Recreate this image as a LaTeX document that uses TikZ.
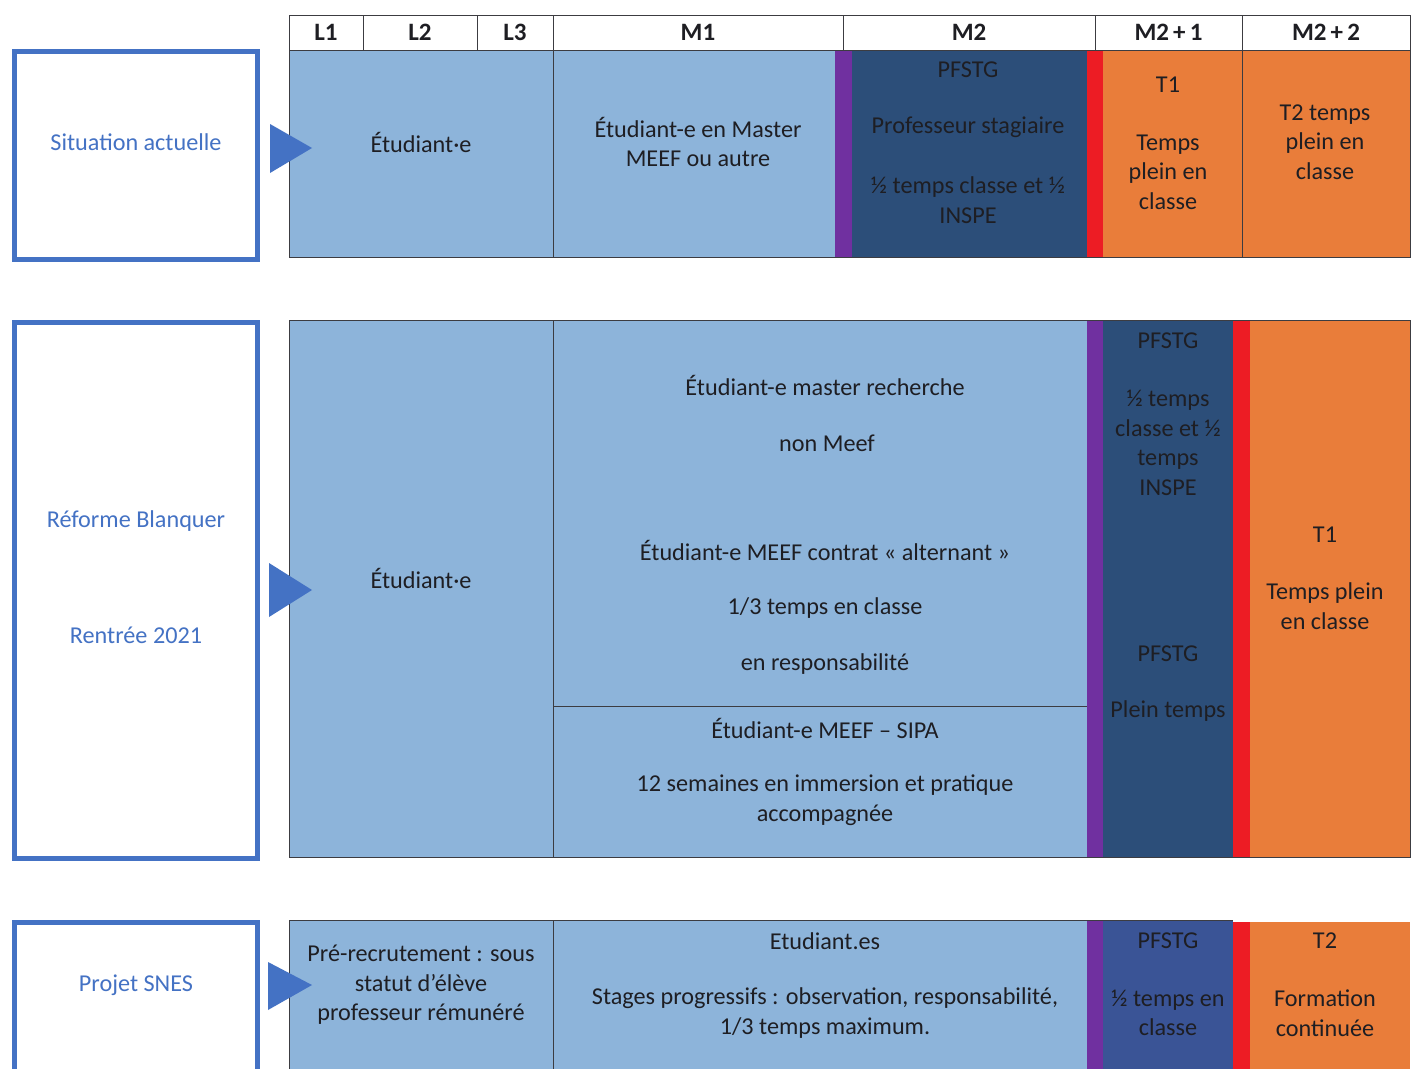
\documentclass[tikz,border=0pt]{standalone}
\usepackage{fontspec}
\setmainfont{Carlito}
\definecolor{lb}{RGB}{141,180,218}
\definecolor{navy}{RGB}{44,78,121}
\definecolor{bluethree}{RGB}{58,84,150}
\definecolor{purp}{RGB}{112,48,160}
\definecolor{redd}{RGB}{237,28,36}
\definecolor{oran}{RGB}{233,125,58}
\definecolor{frameblue}{RGB}{68,114,196}
\definecolor{ink}{RGB}{30,30,35}
\definecolor{rule}{RGB}{60,60,65}
\newcommand\cellbox[6]{\node[cellshape,#6,minimum width={#4-#2},minimum height={#5-#3}] (#1) at ({(#2+#4)/2},{(#3+#5)/2}) {};}
\tikzset{
  cellshape/.style={rectangle,inner sep=0pt,outer sep=0pt},
  hdr/.style={cellshape,draw=rule,line width=1pt,fill=white},
  lbl/.style={align=center,text=ink,font=\fontsize{24.2}{29.5}\selectfont,inner sep=0pt},
  hlbl/.style={text=ink,font=\fontsize{25}{28}\selectfont\bfseries,inner sep=0pt},
  sit/.style={cellshape,draw=frameblue,line width=5pt,fill=white},
  sitlbl/.style={align=center,text=frameblue,font=\fontsize{24.2}{29.5}\selectfont,inner sep=0pt},
  tri/.style={fill=frameblue},
  divider/.style={draw=rule,line width=1pt}
}
\begin{document}
\begin{tikzpicture}[x=1pt,y=-1pt]
\useasboundingbox (0,0) rectangle (1413,1068);
\clip (0,0) rectangle (1413,1068);
\fill[white] (0,0) rectangle (1413,1068);
% ---------- header ----------
\cellbox{hL1}{289}{15}{363}{50}{hdr}
\cellbox{hL2}{363}{15}{477}{50}{hdr}
\cellbox{hL3}{477}{15}{553}{50}{hdr}
\cellbox{hM1}{553}{15}{843}{50}{hdr}
\cellbox{hM2}{843}{15}{1095}{50}{hdr}
\cellbox{hM21}{1095}{15}{1242}{50}{hdr}
\cellbox{hM22}{1242}{15}{1410}{50}{hdr}
\node[hlbl] (tL1) at (hL1) {L1};
\node[hlbl] (tL2) at (hL2) {L2};
\node[hlbl] (tL3) at (hL3) {L3};
\node[hlbl] (tM1) at (hM1) {M1};
\node[hlbl] (tM2) at (hM2) {M2};
\node[hlbl] (tM21) at (hM21) {M2\,+\,1};
\node[hlbl] (tM22) at (hM22) {M2\,+\,2};
% ---------- row 1 ----------
\cellbox{s1}{14.5}{51.5}{257.5}{259.5}{sit}
\node[sitlbl] (s1t) at (136,142) {Situation actuelle};
\cellbox{a1}{289}{50}{553}{257}{fill=lb}
\cellbox{b1}{553}{50}{835}{257}{fill=lb}
\cellbox{p1}{835}{50}{852}{257}{fill=purp}
\cellbox{c1}{852}{50}{1087}{257}{fill=navy}
\cellbox{r1}{1087}{50}{1103}{257}{fill=redd}
\cellbox{d1}{1103}{50}{1242}{257}{fill=oran}
\cellbox{e1}{1242}{50}{1410}{257}{fill=oran}
\draw[divider] (a1.north west) rectangle (e1.south east);
\draw[divider] (b1.north west) -- (b1.south west);
\draw[divider] (e1.north west) -- (e1.south west);
\node[lbl] (a1t) at (421,142) {Étudiant·e};
\node[lbl] (b1t) at (698,142) {Étudiant-e en Master\\MEEF ou autre};
\node[lbl] (c1t1) at (968,70) {PFSTG};
\node[lbl] (c1t2) at (968,127) {Professeur stagiaire};
\node[lbl] (c1t3) at (968,200) {½ temps classe et ½\\INSPE};
\node[lbl] (d1t1) at (1168,85) {T1};
\node[lbl] (d1t2) at (1168,172) {Temps\\plein en\\classe};
\node[lbl] (e1t) at (1325,142) {T2 temps\\plein en\\classe};
\fill[tri] (270,124) -- (312,148) -- (270,173) -- cycle;
% ---------- row 2 ----------
\cellbox{s2}{14.5}{322}{257.5}{858}{sit}
\node[sitlbl] (s2t1) at (136,521) {Réforme Blanquer};
\node[sitlbl] (s2t2) at (136,635) {Rentrée 2021};
\cellbox{a2}{289}{320}{553}{857}{fill=lb}
\cellbox{b2}{553}{320}{1087}{706}{fill=lb}
\cellbox{b2l}{553}{706}{1087}{857}{fill=lb}
\cellbox{p2}{1087}{320}{1103}{857}{fill=purp}
\cellbox{c2}{1103}{320}{1233}{857}{fill=navy}
\cellbox{r2}{1233}{320}{1250}{857}{fill=redd}
\cellbox{e2}{1250}{320}{1410}{857}{fill=oran}
\draw[divider] (a2.north west) rectangle (e2.south east);
\draw[divider] (b2.north west) -- (b2l.south west);
\draw[divider] (b2.south west) -- (b2.south east);
\node[lbl] (a2t) at (421,578) {Étudiant·e};
\node[lbl] (b2t1) at (825,385) {Étudiant-e master recherche};
\node[lbl] (b2t2) at (827,443) {non Meef};
\node[lbl] (b2t3) at (825,550) {Étudiant-e MEEF contrat « alternant »};
\node[lbl] (b2t4) at (825,608) {1/3 temps en classe};
\node[lbl] (b2t5) at (825,664) {en responsabilité};
\node[lbl] (b2lt1) at (825,728) {Étudiant-e MEEF – SIPA};
\node[lbl] (b2lt2) at (825,800) {12 semaines en immersion et pratique\\accompagnée};
\node[lbl] (c2t1) at (1168,341) {PFSTG};
\node[lbl] (c2t2) at (1168,443) {½ temps\\classe et ½\\temps\\INSPE};
\node[lbl] (c2t3) at (1168,654) {PFSTG};
\node[lbl] (c2t4) at (1168,711) {Plein temps};
\node[lbl] (e2t1) at (1325,535) {T1};
\node[lbl] (e2t2) at (1325,606) {Temps plein\\en classe};
\fill[tri] (269,563) -- (312,590) -- (269,617) -- cycle;
% ---------- row 3 ----------
\cellbox{s3}{14.5}{922}{257.5}{1090}{sit}
\node[sitlbl] (s3t) at (136,985) {Projet SNES};
\cellbox{a3}{289}{920}{553}{1090}{fill=lb}
\cellbox{b3}{553}{920}{1087}{1090}{fill=lb}
\cellbox{p3}{1087}{920}{1103}{1090}{fill=purp}
\cellbox{c3}{1103}{920}{1233}{1090}{fill=bluethree}
\cellbox{r3}{1233}{922}{1250}{1090}{fill=redd}
\cellbox{e3}{1250}{922}{1410}{1090}{fill=oran}
\draw[divider] (a3.south west) -- (a3.north west) -- (c3.north east);
\draw[divider] (b3.north west) -- (b3.south west);
\node[lbl] (a3t) at (421,985) {Pré-recrutement : sous\\statut d’élève\\professeur rémunéré};
\node[lbl] (b3t1) at (825,941) {Etudiant.es};
\node[lbl] (b3t2) at (825,1013) {Stages progressifs : observation, responsabilité,\\1/3 temps maximum.};
\node[lbl] (c3t1) at (1168,941) {PFSTG};
\node[lbl] (c3t2) at (1168,1013) {½ temps en\\classe};
\node[lbl] (e3t1) at (1325,941) {T2};
\node[lbl] (e3t2) at (1325,1013) {Formation\\continuée};
\fill[tri] (268,962) -- (312,985) -- (268,1010) -- cycle;
\end{tikzpicture}
\end{document}
